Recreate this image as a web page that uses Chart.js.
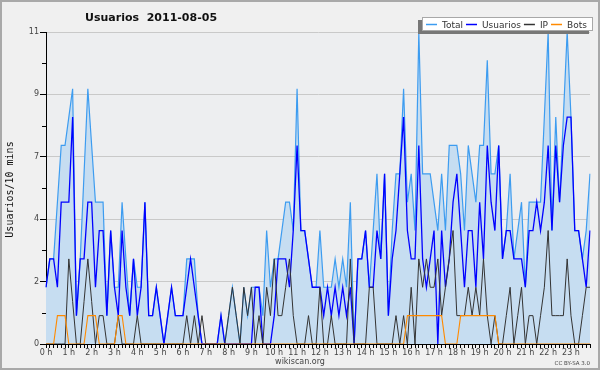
<!DOCTYPE html>
<html>
<head>
<meta charset="utf-8">
<script src="https://cdn.jsdelivr.net/npm/chart.js@4.4.0/dist/chart.umd.min.js"></script>
<style>
    html, body { margin: 0; padding: 0; background: #f0f0f0; }
    canvas { display: block; }
</style>
</head>
<body>
<canvas id="usuariosChart" width="600" height="370"></canvas>
<script>
"use strict";

/** DATA (one value per 10 minutes, one row per hour) */

const TOTAL = [
    2, 3, 3, 5, 7, 7,
    8, 9, 1, 3, 6, 9,
    7, 5, 5, 5, 1, 4,
    2, 2, 5, 3, 1, 3,
    2, 2, 5, 1, 1, 2,
    1, 0, 1, 2, 1, 1,
    1, 3, 3, 3, 1, 0,
    0, 0, 0, 0, 1, 0,
    1, 2, 1, 0, 2, 1,
    2, 2, 2, 1, 4, 2,
    3, 3, 4, 5, 5, 4,
    9, 4, 4, 3, 2, 2,
    4, 2, 2, 2, 3, 2,
    3, 2, 5, 0, 3, 3,
    4, 2, 4, 6, 3, 6,
    1, 4, 6, 6, 9, 5,
    6, 4, 11, 6, 6, 6,
    5, 4, 6, 4, 7, 7,
    7, 6, 4, 7, 6, 5,
    7, 7, 10, 6, 6, 7,
    3, 4, 6, 3, 4, 5,
    2, 5, 5, 5, 5, 8,
    11, 4, 8, 5, 8, 11,
    8, 4, 4, 3, 4, 6
];

const USUARIOS = [
    2, 3, 3, 2, 5, 5,
    5, 8, 1, 3, 3, 5,
    5, 2, 4, 4, 1, 4,
    2, 1, 4, 2, 1, 3,
    1, 2, 5, 1, 1, 2,
    1, 0, 1, 2, 1, 1,
    1, 2, 3, 2, 1, 0,
    0, 0, 0, 0, 1, 0,
    0, 0, 0, 0, 0, 0,
    0, 2, 2, 0, 0, 0,
    1, 3, 3, 3, 2, 4,
    7, 4, 4, 3, 2, 2,
    2, 1, 2, 1, 2, 1,
    2, 1, 2, 0, 3, 3,
    4, 2, 2, 4, 3, 6,
    1, 3, 4, 6, 8, 4,
    3, 3, 7, 3, 2, 3,
    4, 0, 4, 2, 3, 5,
    6, 4, 2, 4, 4, 2,
    5, 3, 7, 5, 4, 7,
    3, 4, 4, 3, 3, 3,
    2, 4, 4, 5, 4, 5,
    7, 4, 7, 5, 7, 8,
    8, 4, 4, 3, 2, 4
];

const IP = [
    0, 0, 0, 0, 0, 0,
    3, 1.5, 0, 0, 1.5, 3,
    1.5, 0, 1, 1, 0, 0,
    0, 1, 0, 0, 0, 0,
    1, 0, 0, 0, 0, 0,
    0, 0, 0, 0, 0, 0,
    0, 1, 0, 1, 0, 1,
    0, 0, 0, 0, 0, 0,
    1, 2, 1, 0, 2, 1,
    2, 0, 1, 0, 2, 1,
    3, 1, 1, 2, 3, 1,
    0, 0, 0, 1, 0, 0,
    2, 0, 0, 1, 0, 0,
    0, 0, 3, 0, 0, 0,
    0, 2, 2, 0, 0, 0,
    0, 0, 1, 0, 1, 0,
    2, 0, 3, 2, 3, 2,
    2, 3, 1, 2, 3, 4,
    1, 1, 1, 2, 1, 2,
    1, 3, 1, 0, 1, 0,
    0, 1, 2, 0, 1, 2,
    0, 1, 1, 0, 1, 2,
    4, 1, 1, 1, 1, 3,
    1, 0, 0, 1, 2, 2
];

const BOTS = [
    0, 0, 0, 1, 1, 1,
    0, 0, 0, 0, 0, 1,
    1, 1, 0, 0, 0, 0,
    0, 1, 1, 0, 0, 0,
    0, 0, 0, 0, 0, 0,
    0, 0, 0, 0, 0, 0,
    0, 0, 0, 0, 0, 0,
    0, 0, 0, 0, 0, 0,
    0, 0, 0, 0, 0, 0,
    0, 0, 0, 0, 0, 0,
    0, 0, 0, 0, 0, 0,
    0, 0, 0, 0, 0, 0,
    0, 0, 0, 0, 0, 0,
    0, 0, 0, 0, 0, 0,
    0, 0, 0, 0, 0, 0,
    0, 0, 0, 0, 0, 1,
    1, 1, 1, 1, 1, 1,
    1, 1, 1, 0, 0, 0,
    0, 1, 1, 1, 1, 1,
    1, 1, 1, 1, 1, 0,
    0, 0, 0, 0, 0, 0,
    0, 0, 0, 0, 0, 0,
    0, 0, 0, 0, 0, 0,
    0, 0, 0, 0, 0, 0
];

const HOUR_LABELS = [
    '0 h', '1 h', '2 h', '3 h', '4 h', '5 h', '6 h', '7 h', '8 h', '9 h', '10 h', '11 h',
    '12 h', '13 h', '14 h', '15 h', '16 h', '17 h', '18 h', '19 h', '20 h', '21 h', '22 h', '23 h'
];

// y axis is split in 5 parts of 2.2, labels are rounded
const Y_TICKS = [0, 2.2, 4.4, 6.6, 8.8, 11];
const Y_TICK_LABELS = ['0', '2', '4', '7', '9', '11'];

const SLOTS_PER_HOUR = 6;


/** STYLE */

const COLOR = {
    TOTAL: '#3d9cf0',
    TOTAL_FILL: '#c6ddf1',
    USUARIOS: '#0000ff',
    IP: '#333333',
    BOTS: '#ff8a00',
    PAGE_BG: '#f0f0f0',
    PLOT_BG: '#edeef0',
    GRID: '#c9c9c9',
    TEXT: '#444444',
};

const FONT = 'DejaVu Sans';


/** PLUGINS */

// Page and plot background
const backgroundPlugin = {
    id: 'background',
    beforeDraw: chart => {
        const { ctx, chartArea: a } = chart;
        ctx.save();
        ctx.fillStyle = COLOR.PAGE_BG;
        ctx.fillRect(0, 0, chart.width, chart.height);
        ctx.fillStyle = COLOR.PLOT_BG;
        ctx.fillRect(a.left, a.top, a.right - a.left, a.bottom - a.top);
        ctx.restore();
    }
};

// Title, legend box, axis title, minor ticks, credits and frame
const decorationsPlugin = {
    id: 'decorations',
    afterDraw: chart => {
        const { ctx } = chart;
        const yScale = chart.scales.y;
        ctx.save();

        // Minor y ticks
        ctx.strokeStyle = '#000';
        ctx.lineWidth = 1;
        for (let i = 0; i < Y_TICKS.length - 1; i++) {
            const y = Math.round(yScale.getPixelForValue((Y_TICKS[i] + Y_TICKS[i + 1]) / 2)) + 0.5;
            ctx.beginPath();
            ctx.moveTo(42, y);
            ctx.lineTo(46, y);
            ctx.stroke();
        }

        // Title
        ctx.fillStyle = '#111';
        ctx.font = `bold 11px "${ FONT }"`;
        ctx.textBaseline = 'alphabetic';
        ctx.textAlign = 'left';
        ctx.fillText('Usuarios  2011-08-05', 85, 20.5);

        // Y axis title
        ctx.save();
        ctx.translate(13, 189.5);
        ctx.rotate(-Math.PI / 2);
        ctx.textAlign = 'center';
        ctx.fillStyle = '#111';
        ctx.font = '10px "DejaVu Sans Mono"';
        ctx.fillText('Usuarios/10 mins', 0, 0);
        ctx.restore();

        // Legend box with shadow
        ctx.fillStyle = '#777';
        ctx.fillRect(418, 20, 171, 14);
        ctx.fillStyle = '#fff';
        ctx.fillRect(422, 17, 171, 14);
        ctx.strokeStyle = '#a8a8a8';
        ctx.strokeRect(422.5, 17.5, 170, 13);

        ctx.font = `9px "${ FONT }"`;
        ctx.textAlign = 'left';
        let x = 426;
        chart.data.datasets.forEach(ds => {
            ctx.strokeStyle = ds.borderColor;
            ctx.lineWidth = 1.5;
            ctx.beginPath();
            ctx.moveTo(x, 24.5);
            ctx.lineTo(x + 11, 24.5);
            ctx.stroke();
            x += 16;
            ctx.fillStyle = '#333';
            ctx.fillText(ds.label, x, 28);
            x += ctx.measureText(ds.label).width + 3;
        });

        // Credits
        ctx.fillStyle = COLOR.TEXT;
        ctx.font = `8px "${ FONT }"`;
        ctx.textAlign = 'center';
        ctx.fillText('wikiscan.org', 300, 364);
        ctx.font = `5.5px "${ FONT }"`;
        ctx.textAlign = 'right';
        ctx.fillText('CC BY-SA 3.0', 590, 365);

        // Frame
        ctx.strokeStyle = '#a9a9a9';
        ctx.lineWidth = 2;
        ctx.strokeRect(1, 1, chart.width - 2, chart.height - 2);

        ctx.restore();
    }
};


/** INITIALIZE CHART */

const lineDataset = (label, data, color, width, order) => ({
    label: label,
    data: data,
    borderColor: color,
    borderWidth: width,
    pointRadius: 0,
    tension: 0,
    fill: false,
    order: order,
});

const usuariosChart = new Chart(document.getElementById('usuariosChart').getContext('2d'), {
    type: 'line',
    data: {
        labels: TOTAL.map((_, i) => i),
        datasets: [
            {
                ...lineDataset('Total', TOTAL, COLOR.TOTAL, 1.2, 4),
                fill: 'origin',
                backgroundColor: COLOR.TOTAL_FILL,
            },
            lineDataset('Usuarios', USUARIOS, COLOR.USUARIOS, 1.3, 3),
            lineDataset('IP', IP, COLOR.IP, 1, 2),
            lineDataset('Bots', BOTS, COLOR.BOTS, 1.1, 1),
        ]
    },
    options: {
        responsive: false,
        animation: false,
        devicePixelRatio: 1,
        layout: {
            padding: { left: 0, top: 32, right: 10, bottom: 0 }
        },
        plugins: {
            legend: { display: false },
            title: { display: false },
            tooltip: { enabled: false },
        },
        scales: {
            x: {
                type: 'category',
                afterFit: scale => { scale.height = 26 },
                grid: {
                    drawOnChartArea: false,
                    drawTicks: true,
                    tickLength: 4,
                    tickColor: '#000',
                },
                border: { display: true, color: '#000', width: 1 },
                ticks: {
                    autoSkip: false,
                    maxRotation: 0,
                    padding: 0,
                    color: COLOR.TEXT,
                    font: { family: FONT, size: 8 },
                    callback: (value, index) => index % SLOTS_PER_HOUR === 0 ? HOUR_LABELS[index / SLOTS_PER_HOUR] : '',
                }
            },
            y: {
                min: 0,
                max: 11,
                afterFit: scale => { scale.width = 46 },
                afterBuildTicks: scale => { scale.ticks = Y_TICKS.map(v => ({ value: v })) },
                grid: {
                    color: COLOR.GRID,
                    drawTicks: true,
                    tickLength: 6,
                    tickColor: '#000',
                },
                border: { display: true, color: '#000', width: 1 },
                ticks: {
                    padding: 1,
                    color: COLOR.TEXT,
                    font: { family: FONT, size: 8 },
                    callback: (value, index) => Y_TICK_LABELS[index],
                }
            }
        }
    },
    plugins: [backgroundPlugin, decorationsPlugin]
});
</script>
</body>
</html>
